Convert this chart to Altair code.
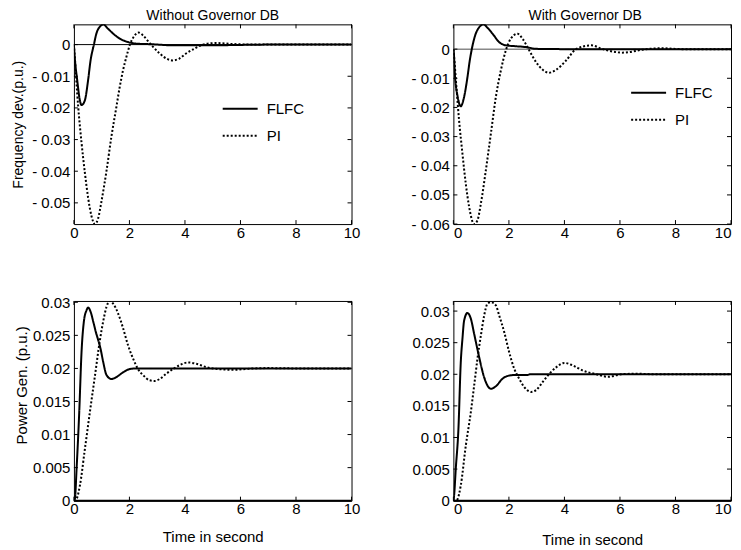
import altair as alt
import pandas as pd

SERIES = ["FLFC", "PI"]
X_TICKS = [0, 2, 4, 6, 8, 10]

# ---- Top-left: frequency deviation, without governor dead band ----
TL_FLFC_T = [0, 0.02, 0.12, 0.215, 0.275, 0.395, 0.51, 0.6, 0.72, 0.81, 0.99, 1.05, 1.23, 1.41, 1.65, 1.95, 2.25, 2.85, 3.5, 5.0, 7.0, 10.0]
TL_FLFC_V = [0, -0.0028, -0.0113, -0.0176, -0.0191, -0.0176, -0.0113, -0.005, 0.0, 0.0035, 0.0061, 0.0064, 0.005, 0.0035, 0.0019, 0.0008, 0.0003, 0.0001, -0.0002, -0.0002, 0.0, 0.0]
TL_PI_T = [0, 0.02, 0.155, 0.275, 0.395, 0.514, 0.634, 0.754, 0.873, 0.993, 1.172, 1.35, 1.53, 1.65, 1.77, 1.89, 2.01, 2.19, 2.33, 2.49, 2.67, 2.85, 3.09, 3.33, 3.56, 3.80, 4.04, 4.34, 4.64, 5.12, 5.7, 6.5, 8.0, 10.0]
TL_PI_V = [0, -0.0025, -0.0197, -0.031, -0.0405, -0.0485, -0.0542, -0.0567, -0.0549, -0.0495, -0.0400, -0.0291, -0.0197, -0.0134, -0.0081, -0.0039, -0.0002, 0.0029, 0.0038, 0.0029, 0.0011, -0.0007, -0.0028, -0.0044, -0.005, -0.0044, -0.0028, -0.0013, 0.0, 0.0005, 0.0002, 0.0, 0.0, 0.0]

# ---- Top-right: frequency deviation, with governor dead band ----
TR_FLFC_T = [0, 0.013, 0.061, 0.146, 0.266, 0.386, 0.507, 0.59, 0.663, 0.784, 0.929, 1.085, 1.23, 1.41, 1.65, 1.89, 2.25, 2.61, 2.98, 4.0, 7.0, 10.0]
TR_FLFC_V = [0, -0.001, -0.0096, -0.0159, -0.0196, -0.0164, -0.0096, -0.0039, 0.0, 0.0047, 0.0075, 0.0085, 0.0073, 0.0053, 0.0024, 0.0013, 0.001, 0.0007, 0.0001, 0.0, 0.0, 0.0]
TR_PI_T = [0, 0.02, 0.109, 0.205, 0.326, 0.446, 0.567, 0.748, 0.868, 0.989, 1.17, 1.35, 1.53, 1.71, 1.89, 2.07, 2.31, 2.49, 2.73, 2.98, 3.22, 3.43, 3.70, 4.06, 4.42, 4.97, 5.38, 6.1, 6.95, 7.55, 8.2, 10.0]
TR_PI_V = [0, -0.002, -0.013, -0.0244, -0.0358, -0.0461, -0.0541, -0.06, -0.0587, -0.053, -0.0415, -0.029, -0.0164, -0.0073, -0.0004, 0.0036, 0.0053, 0.0036, -0.0004, -0.0045, -0.0071, -0.0081, -0.0071, -0.0039, 0.0, 0.0013, 0.0, -0.0012, 0.0, 0.0003, 0.0, 0.0]

# ---- Bottom-left: power generation, without governor dead band ----
BL_FLFC_T = [0, 0.036, 0.096, 0.192, 0.275, 0.359, 0.455, 0.515, 0.599, 0.695, 0.79, 0.874, 0.958, 1.054, 1.174, 1.354, 1.533, 1.77, 2.01, 2.25, 2.61, 4.0, 10.0]
BL_FLFC_V = [0, 0.0003, 0.0048, 0.0134, 0.0225, 0.0271, 0.0288, 0.0292, 0.0286, 0.0271, 0.0255, 0.0243, 0.023, 0.021, 0.019, 0.0184, 0.0187, 0.0194, 0.0199, 0.02, 0.02, 0.02, 0.02]
BL_PI_T = [0, 0.096, 0.216, 0.395, 0.575, 0.755, 0.934, 1.054, 1.174, 1.294, 1.414, 1.594, 1.77, 1.95, 2.13, 2.31, 2.49, 2.73, 2.91, 3.09, 3.33, 3.57, 3.81, 4.11, 4.41, 4.77, 5.0, 5.73, 6.5, 7.0, 8.0, 10.0]
BL_PI_V = [0, 0.0003, 0.0023, 0.0078, 0.0134, 0.0188, 0.0242, 0.0271, 0.0293, 0.0302, 0.0298, 0.0283, 0.0261, 0.0235, 0.0215, 0.0199, 0.019, 0.0182, 0.0181, 0.0184, 0.0192, 0.0199, 0.0205, 0.0209, 0.0207, 0.0202, 0.02, 0.0198, 0.02, 0.02005, 0.02, 0.02]

# ---- Bottom-right: power generation, with governor dead band ----
BR_FLFC_T = [0, 0.025, 0.085, 0.182, 0.266, 0.326, 0.387, 0.507, 0.628, 0.748, 0.929, 1.109, 1.23, 1.35, 1.53, 1.77, 2.01, 2.25, 2.68, 2.76, 4.0, 10.0]
BR_FLFC_V = [0, 0.0008, 0.005, 0.0114, 0.0219, 0.0256, 0.0285, 0.0297, 0.0288, 0.0264, 0.0227, 0.0195, 0.0182, 0.0177, 0.0181, 0.0193, 0.0198, 0.0199, 0.0199, 0.02, 0.02, 0.02]
BR_PI_T = [0, 0.1, 0.146, 0.266, 0.447, 0.628, 0.748, 0.868, 0.989, 1.109, 1.23, 1.35, 1.53, 1.65, 1.83, 2.01, 2.19, 2.37, 2.55, 2.80, 2.98, 3.22, 3.46, 3.70, 4.00, 4.30, 4.66, 5.15, 5.57, 6.05, 6.6, 7.2, 8.0, 10.0]
BR_PI_V = [0, 0.0, 0.0002, 0.0024, 0.0087, 0.014, 0.0182, 0.0225, 0.0261, 0.0293, 0.0312, 0.0314, 0.0309, 0.0293, 0.0267, 0.0235, 0.0209, 0.0193, 0.018, 0.0172, 0.0175, 0.0188, 0.0201, 0.0211, 0.0218, 0.0214, 0.0206, 0.02, 0.0196, 0.02, 0.0201, 0.02, 0.02, 0.02]

TL_Y_TICKS = [0, -0.01, -0.02, -0.03, -0.04, -0.05]
TR_Y_TICKS = [0, -0.01, -0.02, -0.03, -0.04, -0.05, -0.06]
B_Y_TICKS = [0, 0.005, 0.01, 0.015, 0.02, 0.025, 0.03]

TL_DOMAIN = [-0.0567, 0.0064]
TR_DOMAIN = [-0.06, 0.0085]
BL_DOMAIN = [0, 0.0302]
BR_DOMAIN = [0, 0.0316]

W, H = 278, 200
FONT = "Liberation Sans"
LABEL_EXPR = ("datum.value == 0 ? '0' : (datum.value < 0 ? '- ' + format(-datum.value, '~g') "
              ": format(datum.value, '~g'))")


def frame(t1, v1, t2, v2):
    a = pd.DataFrame({"t": t1, "val": v1, "series": SERIES[0]})
    b = pd.DataFrame({"t": t2, "val": v2, "series": SERIES[1]})
    return pd.concat([a, b], ignore_index=True)


def panel(df, domain, yticks, title, title_dx, ytitle, ytitle_opts, xtitle, xtitle_pad,
          legend_pos, flush, zero_color, zero_width):
    x_axis = dict(values=X_TICKS, labelFlush=flush, title=xtitle, titlePadding=xtitle_pad,
                  titleFontSize=15, labelPadding=1)
    x_enc = alt.X("t:Q", scale=alt.Scale(domain=[0, 10], nice=False, zero=False),
                  axis=alt.Axis(**x_axis))
    y_axis = dict(values=yticks, labelExpr=LABEL_EXPR, title=ytitle)
    y_axis.update(ytitle_opts)
    y_enc = alt.Y("val:Q", scale=alt.Scale(domain=domain, nice=False, zero=False),
                  axis=alt.Axis(**y_axis))

    if legend_pos is not None:
        legend = alt.Legend(orient="none", legendX=legend_pos[0], legendY=legend_pos[1], title=None,
                            symbolType="stroke", symbolSize=1225, symbolStrokeWidth=2,
                            symbolStrokeColor="black", labelFont=FONT, labelFontSize=15,
                            labelColor="black", labelOffset=8, rowPadding=-8, padding=0)
    else:
        legend = None

    zero = alt.Chart(pd.DataFrame({"val": [0]})).mark_rule(
        color=zero_color, strokeWidth=zero_width).encode(y=y_enc)

    lines = alt.Chart(df).mark_line(clip=True, strokeWidth=2, color="black",
                                    interpolate="monotone").encode(
        x=x_enc, y=y_enc,
        strokeDash=alt.StrokeDash("series:N",
                                  scale=alt.Scale(domain=SERIES, range=[[1, 0], [2, 2]]),
                                  legend=legend))

    xt = pd.DataFrame({"t": X_TICKS})
    yt = pd.DataFrame({"val": yticks})
    tb = alt.Chart(xt).mark_rule(color="black").encode(x=x_enc, y=alt.value(H), y2=alt.value(H - 4))
    tt = alt.Chart(xt).mark_rule(color="black").encode(x=x_enc, y=alt.value(0), y2=alt.value(4))
    tl = alt.Chart(yt).mark_rule(color="black").encode(y=y_enc, x=alt.value(0), x2=alt.value(4))
    tr = alt.Chart(yt).mark_rule(color="black").encode(y=y_enc, x=alt.value(W), x2=alt.value(W - 4))

    props = dict(width=W, height=H)
    if title:
        props["title"] = alt.TitleParams(title, fontSize=14, font=FONT, fontWeight="normal",
                                         color="black", offset=1, anchor="middle", frame="group",
                                         dx=title_dx)
    return alt.layer(zero, lines, tb, tt, tl, tr).properties(**props)


top_left = panel(frame(TL_FLFC_T, TL_FLFC_V, TL_PI_T, TL_PI_V), TL_DOMAIN, TL_Y_TICKS,
                 "Without Governor DB", 0, "Frequency dev.(p.u.)",
                 dict(titleFontSize=14, titlePadding=6), None, 0,
                 (148, 66), False, "black", 1)
top_right = panel(frame(TR_FLFC_T, TR_FLFC_V, TR_PI_T, TR_PI_V), TR_DOMAIN, TR_Y_TICKS,
                  "With Governor DB", -7, None, {}, None, 0,
                  (177, 50), True, "#888888", 1.5)
bottom_left = panel(frame(BL_FLFC_T, BL_FLFC_V, BL_PI_T, BL_PI_V), BL_DOMAIN, B_Y_TICKS,
                    None, 0, "Power Gen. (p.u.)",
                    dict(titleFontSize=15, titlePadding=3, titleY=84), "Time in second", 13,
                    None, False, "black", 2)
bottom_right = panel(frame(BR_FLFC_T, BR_FLFC_V, BR_PI_T, BR_PI_V), BR_DOMAIN, B_Y_TICKS,
                     None, 0, None, {}, "Time in second", 16,
                     None, True, "black", 2)

chart = alt.concat(top_left, top_right, bottom_left, bottom_right, columns=2,
                   spacing={"row": 53, "column": 50}, align="each").resolve_scale(
    strokeDash="independent").resolve_legend(strokeDash="independent").properties(
    padding={"left": 3, "top": 0, "right": 0, "bottom": 0}, background="white"
).configure_view(stroke="black", strokeWidth=1).configure_axis(
    domain=False, ticks=False, grid=False, labelFont=FONT, labelFontSize=15, labelColor="black",
    labelPadding=4, titleFont=FONT, titleFontWeight="normal", titleColor="black"
)

chart.save("out.html", embed_options={"renderer": "svg", "actions": False})
